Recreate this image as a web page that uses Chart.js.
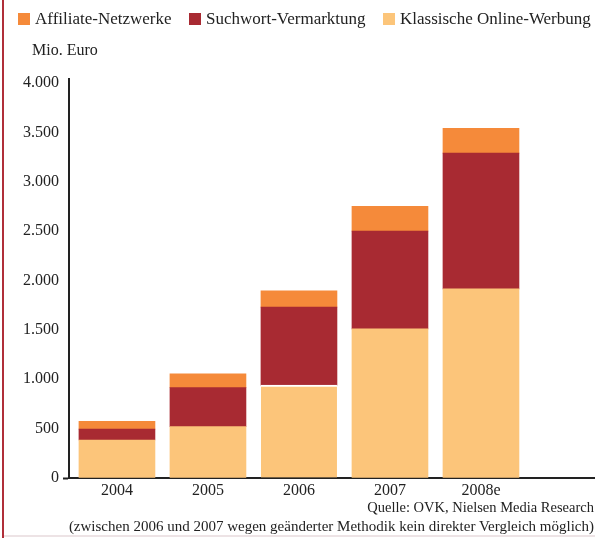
<!DOCTYPE html>
<html lang="de">
<head>
<meta charset="utf-8">
<title>Online-Werbung in Deutschland</title>
<script src="https://cdn.jsdelivr.net/npm/chart.js@4"></script>
<style>
  html, body {
    margin: 0;
    padding: 0;
    background: #fff;
  }
  .wrap {
    position: relative;
    width: 595px;
    height: 538px;
    overflow: hidden;
    font-family: "Liberation Serif", "Times New Roman", serif;
    color: #222;
  }
  .wrap canvas {
    position: absolute;
    left: 0;
    top: 0;
  }
  .redline {
    position: absolute;
    left: 2px;
    top: 0;
    width: 2px;
    height: 538px;
    background: #b02f39;
  }
  .bottomline {
    position: absolute;
    left: 4px;
    top: 535px;
    width: 591px;
    height: 2px;
    background: #ede3e5;
  }
  .txt {
    position: absolute;
    font-size: 16px;
    line-height: 20px;
    white-space: nowrap;
  }
  .box {
    position: absolute;
    width: 12px;
    height: 12px;
  }
</style>
</head>
<body>
<div class="wrap" id="wrap">
  <canvas id="chart" width="595" height="538"></canvas>
  <div class="redline"></div>
  <div class="bottomline"></div>
  <div class="txt" style="left:32px; top:40px;">Mio. Euro</div>
  <div class="txt" style="right:1px; top:497px; font-size:14.5px;">Quelle: OVK, Nielsen Media Research</div>
  <div class="txt" style="right:1px; top:516px; font-size:15px;">(zwischen 2006 und 2007 wegen geänderter Methodik kein direkter Vergleich möglich)</div>
</div>

<script>
// Jahre (Kategorien)
const years = ["2004", "2005", "2006", "2007", "2008e"];

// Werte in Mio. Euro
const klassisch = [385, 520, 940, 1510, 1915]; // Klassische Online-Werbung
const suchwort = [110, 395, 790, 990, 1375]; // Suchwort-Vermarktung
const affiliate = [80, 140, 165, 250, 250]; // Affiliate-Netzwerke

// Achsenbeschriftung links
const yTicks = [0, 500, 1000, 1500, 2000, 2500, 3000, 3500, 4000];

// Farben
const colAffiliate = "#f58a3a";
const colSuchwort = "#a82a32";
const colKlassisch = "#fcc57a";

// Legende (Reihenfolge wie im Original)
const legendItems = [
  { label: "Affiliate-Netzwerke", color: colAffiliate, x: 18 },
  { label: "Suchwort-Vermarktung", color: colSuchwort, x: 189 },
  { label: "Klassische Online-Werbung", color: colKlassisch, x: 383 },
];

const wrap = document.getElementById("wrap");
legendItems.forEach((item) => {
  const box = document.createElement("div");
  box.className = "box";
  box.style.left = item.x + "px";
  box.style.top = "13px";
  box.style.background = item.color;
  wrap.appendChild(box);

  const t = document.createElement("div");
  t.className = "txt";
  t.style.left = item.x + 17 + "px";
  t.style.top = "9px";
  t.style.fontSize = "17px";
  t.textContent = item.label;
  wrap.appendChild(t);
});

// Zahlen mit Tausenderpunkt
function formatDE(v) {
  return String(v).replace(/\B(?=(\d{3})+(?!\d))/g, ".");
}

function toPoints(arr) {
  return arr.map((v, i) => ({ x: i, y: v }));
}

const font = { family: "'Liberation Serif', 'Times New Roman', serif", size: 16 };

const ctx = document.getElementById("chart").getContext("2d");
const chart = new Chart(ctx, {
  type: "bar",
  data: {
    datasets: [
      {
        label: "Klassische Online-Werbung",
        data: toPoints(klassisch),
        backgroundColor: colKlassisch,
        // weisse Trennlinie nur bei 2006
        borderColor: "#ffffff",
        borderWidth: (c) => (c.dataIndex === 2 ? { top: 2, left: 0, right: 0, bottom: 0 } : 0),
        borderSkipped: false,
        barThickness: 76,
      },
      {
        label: "Suchwort-Vermarktung",
        data: toPoints(suchwort),
        backgroundColor: colSuchwort,
        borderWidth: 0,
        barThickness: 76,
      },
      {
        label: "Affiliate-Netzwerke",
        data: toPoints(affiliate),
        backgroundColor: colAffiliate,
        borderWidth: 0,
        barThickness: 76,
      },
    ],
  },
  options: {
    responsive: false,
    animation: false,
    layout: {
      padding: { top: 79, right: 0, bottom: 0, left: 0 },
    },
    plugins: {
      legend: { display: false },
      tooltip: { enabled: false },
    },
    scales: {
      x: {
        type: "linear",
        stacked: true,
        offset: false,
        bounds: "data",
        min: -0.527,
        max: 5.253,
        grid: { display: false, drawTicks: false },
        border: { display: true, color: "#222", width: 2 },
        ticks: {
          font: font,
          color: "#222",
          padding: 3,
          maxRotation: 0,
          autoSkip: false,
          callback: (v) => years[v] || "",
        },
        afterBuildTicks: (scale) => {
          scale.ticks = years.map((_, i) => ({ value: i }));
        },
        afterFit: (scale) => {
          scale.height = 60;
        },
      },
      y: {
        stacked: true,
        min: 0,
        max: 4040,
        border: { display: true, color: "#222", width: 2 },
        grid: {
          drawOnChartArea: false,
          tickLength: 6,
          tickWidth: 2,
          tickColor: (c) => (c.tick && c.tick.value === 0 ? "#222" : "rgba(0,0,0,0)"),
        },
        ticks: {
          font: font,
          color: "#222",
          padding: 4,
          callback: (v) => formatDE(v),
        },
        afterBuildTicks: (scale) => {
          scale.ticks = yTicks.map((v) => ({ value: v }));
        },
        afterFit: (scale) => {
          scale.width = 69;
        },
      },
    },
  },
});
</script>
</body>
</html>
